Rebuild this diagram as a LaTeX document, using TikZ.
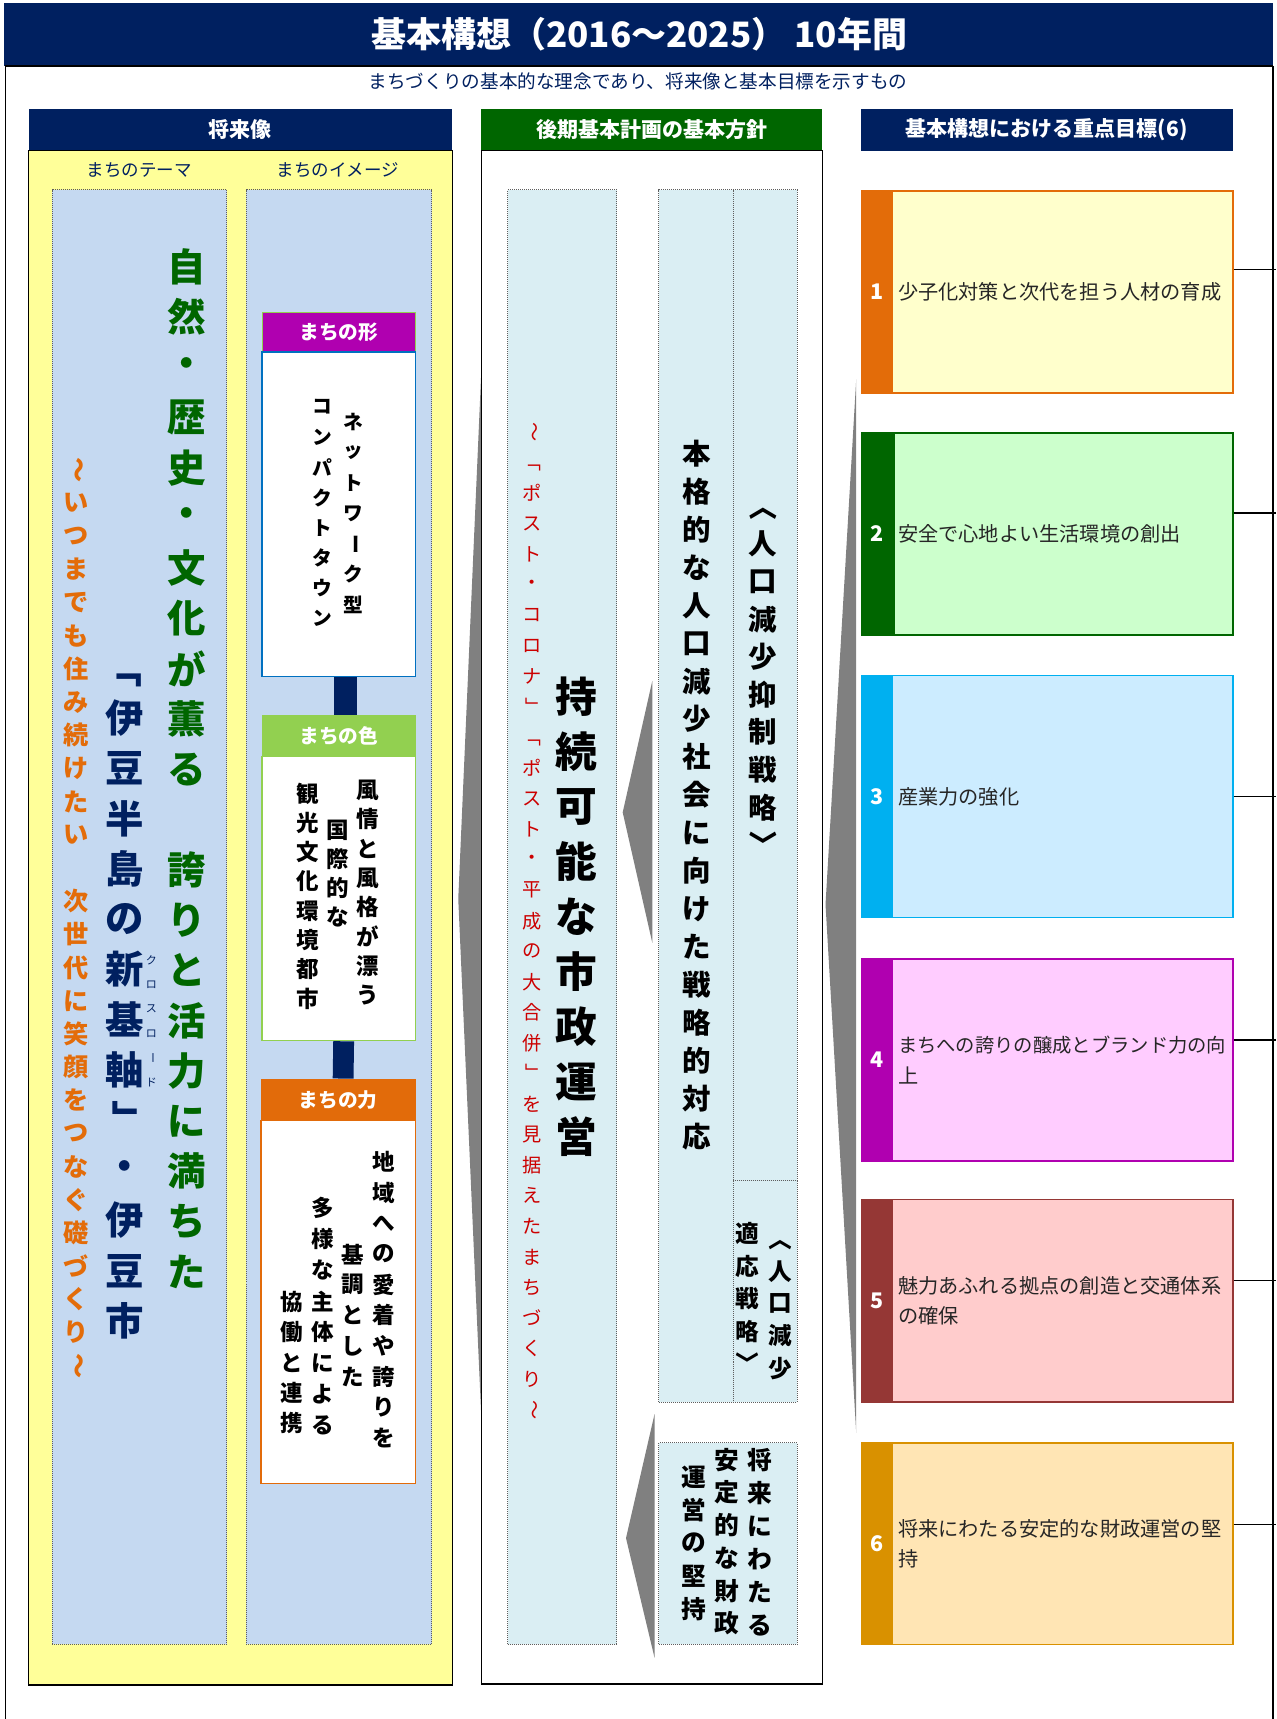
\documentclass[tikz,border=0pt]{standalone}
\usepackage{fontspec}
\setmainfont{Noto Sans CJK JP}
\usetikzlibrary{fit}
\definecolor{navy}{HTML}{002060}
\definecolor{panelyellow}{HTML}{FFFF99}
\definecolor{colblue}{HTML}{C5D9F1}
\definecolor{colcyan}{HTML}{DAEEF3}
\definecolor{dgreen}{HTML}{006600}
\definecolor{torange}{HTML}{E36C09}
\definecolor{hmag}{HTML}{B000B0}
\definecolor{hlgreen}{HTML}{92D050}
\definecolor{horange}{HTML}{E26B0A}
\definecolor{bblue}{HTML}{0070C0}
\definecolor{tred}{HTML}{CC0000}
\definecolor{wedgegray}{HTML}{808080}
\definecolor{dotgray}{HTML}{5E5E5E}
\definecolor{gsA}{HTML}{E36C09}\definecolor{gfA}{HTML}{FFFFCC}
\definecolor{gsB}{HTML}{006600}\definecolor{gfB}{HTML}{CCFFCC}
\definecolor{gsC}{HTML}{00B0F0}\definecolor{gfC}{HTML}{CCECFF}
\definecolor{gsD}{HTML}{B000B0}\definecolor{gfD}{HTML}{FFCCFF}
\definecolor{gsE}{HTML}{953735}\definecolor{gfE}{HTML}{FFCCCC}
\definecolor{gsF}{HTML}{D99100}\definecolor{gfF}{HTML}{FFE5B4}
\newcommand\rt[1]{\rotatebox[origin=c]{-90}{#1}}
\newcommand\vcol[6]{\foreach \c [count=\i from 0] in {#6}{\node[#5] (#1-\i) at (#2,{#3+\i*#4}) {\c};}}
\newcommand\goalbox[9]{%
  \node[fit={(786,#2) (1124.5,#3)}, inner sep=0pt, draw=#4, fill=#5, line width=1.6pt] (#1) {};
  \fill[#4] (786,#2) rectangle (#9,#3);
  \node[numtxt] (#1n) at (800,{(#2+#3)/2}) {#6};
  \node[goaltxt] (#1t) at (819,{(#2+#3)/2}) {#7};
  \coordinate (#1r) at (1164,#8);
  \draw[line width=1.2pt] (#1.east |- #1r) -- (#1r);}
\begin{document}
\begin{tikzpicture}[x=1.0962pt,y=-1.0962pt,
  ch/.style={inner sep=0pt},
  dotbox/.style={draw=dotgray, densely dotted, line width=1pt},
  boxfit/.style={inner sep=0pt},
  hdtxt/.style={inner sep=0pt, text=white, font=\fontsize{21}{24}\selectfont\bfseries},
  bhtxt/.style={inner sep=0pt, text=white, font=\fontsize{19.7}{22}\selectfont\bfseries},
  greentxt/.style={ch, text=dgreen, font=\fontsize{38.4}{40}\selectfont\bfseries},
  navytxt/.style={ch, text=navy, font=\fontsize{38.4}{40}\selectfont\bfseries},
  orangetxt/.style={ch, text=torange, font=\fontsize{25.2}{27}\selectfont\bfseries},
  rubytxt/.style={ch, text=navy, font=\fontsize{11}{12}\selectfont},
  formtxt/.style={ch, text=black, font=\fontsize{19.7}{21}\selectfont\bfseries},
  colortxt/.style={ch, text=black, font=\fontsize{22.5}{24}\selectfont\bfseries},
  susttxt/.style={ch, text=black, font=\fontsize{41.7}{44}\selectfont\bfseries},
  redtxt/.style={ch, text=tred, font=\fontsize{19.2}{21}\selectfont},
  strattxt/.style={ch, text=black, font=\fontsize{28.5}{30}\selectfont\bfseries},
  smalltxt/.style={ch, text=black, font=\fontsize{23.6}{25}\selectfont\bfseries},
  fintxt/.style={ch, text=black, font=\fontsize{24.7}{26}\selectfont\bfseries},
  numtxt/.style={inner sep=0pt, text=white, font=\fontsize{21.5}{22}\selectfont\bfseries},
  goaltxt/.style={inner sep=0pt, anchor=west, align=left, text=black!85, font=\fontsize{20.2}{30.7}\selectfont},
  wedge/.style={fill=wedgegray}]
\useasboundingbox (0,0) rectangle (1164,1568);
\fill[white] (0,0) rectangle (1164,1568);
% title and frame
\node[fit={(4,3) (1161,60)}, boxfit, fill=navy] (titlebar) {};
\node[text=white, inner sep=0pt, font=\fontsize{35}{38}\selectfont\bfseries] (title) at (583,31) {基本構想（2016～2025） 10年間};
\draw[line width=1.6pt] (5,60) -- (1161,60);
\draw[line width=1.6pt] (5,60) -- (5,1568);
\draw[line width=2pt] (1161,60) -- (1161,1568);
\node[text=navy, inner sep=0pt, font=\fontsize{18.6}{20}\selectfont] (subtitle) at (582,74) {まちづくりの基本的な理念であり、将来像と基本目標を示すもの};
% ---------- left panel ----------
\node[fit={(26,137) (412.5,1537)}, boxfit, draw=black, line width=1.3pt, fill=panelyellow] (lpanel) {};
\node[fit={(26,99.5) (412.5,137)}, boxfit, fill=navy] (lhead) {};
\node[hdtxt] (lheadtxt) at (219,118.5) {将来像};
\node[text=navy, inner sep=0pt, font=\fontsize{17.5}{19}\selectfont] (ltheme) at (127,155) {まちのテーマ};
\node[text=navy, inner sep=0pt, font=\fontsize{17.5}{19}\selectfont] (limage) at (308,155) {まちのイメージ};
\node[fit={(47.5,173) (207,1500)}, boxfit, fill=colblue, dotbox] (themecol) {};
\node[fit={(224.5,173) (394,1500)}, boxfit, fill=colblue, dotbox] (imagecol) {};
\vcol{grn}{170.5}{243.3}{45.83}{greentxt}{自,然,・,歴,史,・,文,化,が,薫,る,{},誇,り,と,活,力,に,満,ち,た}
\vcol{nvy}{114}{609.5}{45.8}{navytxt}{\rt{「},伊,豆,半,島,の,新,基,軸,\rt{」},・,伊,豆,市}
\vcol{rby}{138}{876}{22.2}{rubytxt}{ク,ロ,ス,ロ,\rt{ー},ド}
\vcol{org}{69.5}{428.7}{30.26}{orangetxt}{\rt{～},い,つ,ま,で,も,住,み,続,け,た,い,{},次,世,代,に,笑,顔,を,つ,な,ぐ,礎,づ,く,り,\rt{～}}
% image boxes
\node[fit={(239,285) (379,321)}, boxfit, fill=hmag, draw=hlgreen, line width=1pt] (formhead) {};
\node[bhtxt] (formheadtxt) at (309,303) {まちの形};
\node[fit={(239,321) (379,617)}, boxfit, fill=white, draw=bblue, line width=1.5pt] (formbody) {};
\node[fit={(239,652) (379,690)}, boxfit, fill=hlgreen] (colorhead) {};
\node[bhtxt] (colorheadtxt) at (309,671) {まちの色};
\node[fit={(239,690) (379,949)}, boxfit, fill=white, draw=hlgreen, line width=1.8pt] (colorbody) {};
\node[fit={(238,984) (379,1022)}, boxfit, fill=horange] (powerhead) {};
\node[bhtxt] (powerheadtxt) at (308.5,1003) {まちの力};
\node[fit={(238,1022) (379,1353)}, boxfit, fill=white, draw=horange, line width=1.6pt] (powerbody) {};
\draw[navy, line width=23pt] ([xshift=7pt]formbody.south) -- ([xshift=7pt]colorhead.north);
\draw[navy, line width=20.8pt] ([xshift=4.9pt]colorbody.south) -- ([xshift=4.9pt]powerhead.north);
\vcol{fa}{322}{385}{27.8}{formtxt}{ネ,ッ,ト,ワ,\rt{ー},ク,型}
\vcol{fb}{294}{371}{27.6}{formtxt}{コ,ン,パ,ク,ト,タ,ウ,ン}
\vcol{ca}{335}{720.7}{26.7}{colortxt}{風,情,と,風,格,が,漂,う}
\vcol{cb}{308}{757.2}{26.4}{colortxt}{国,際,的,な}
\vcol{cc}{281}{724}{26.7}{colortxt}{観,光,文,化,環,境,都,市}
\vcol{pa}{349.7}{1059.8}{28}{colortxt}{地,域,へ,の,愛,着,や,誇,り,を}
\vcol{pb}{321.7}{1144}{27.9}{colortxt}{基,調,と,し,た}
\vcol{pc}{294}{1101.8}{28.36}{colortxt}{多,様,な,主,体,に,よ,る}
\vcol{pd}{266}{1187.5}{27.7}{colortxt}{協,働,と,連,携}
% ---------- middle panel ----------
\fill[wedge] (439,339) -- (418,820) -- (439,1292) -- cycle;
\node[fit={(439,137) (750,1536)}, boxfit, draw=black, line width=1.3pt, fill=white] (mpanel) {};
\node[fit={(439,99.5) (750,137)}, boxfit, fill=dgreen] (mhead) {};
\node[hdtxt] (mheadtxt) at (594.5,118.5) {後期基本計画の基本方針};
\node[fit={(463,173) (562.6,1500)}, boxfit, fill=colcyan, dotbox] (sustcol) {};
\node[fit={(601,173) (668.7,1279)}, boxfit, fill=colcyan, dotbox] (stratcol) {};
\node[fit={(668.7,173) (727,1077)}, boxfit, fill=colcyan, dotbox] (stratA) {};
\node[fit={(668.7,1077) (727,1279)}, boxfit, fill=colcyan, dotbox] (stratB) {};
\node[fit={(601,1316) (727,1500)}, boxfit, fill=colcyan, dotbox] (fincol) {};
\fill[wedge] (595,621) -- (568,741) -- (595,860) -- cycle;
\fill[wedge] (597,1290) -- (571,1403) -- (597,1512) -- cycle;
\vcol{su}{526}{635.6}{50.2}{susttxt}{持,続,可,能,な,市,政,運,営}
\vcol{rd}{485.5}{394}{27.87}{redtxt}{\rt{〜},\rt{「},ポ,ス,ト,・,コ,ロ,ナ,\rt{」},\rt{「},ポ,ス,ト,・,平,成,の,大,合,併,\rt{」},を,見,据,え,た,ま,ち,づ,く,り,\rt{〜}}
\vcol{sa}{635.5}{413.8}{34.6}{strattxt}{本,格,的,な,人,口,減,少,社,会,に,向,け,た,戦,略,的,対,応}
\vcol{sb}{696}{462}{34.3}{strattxt}{\rt{〈},人,口,減,少,抑,制,戦,略,\rt{〉}}
\vcol{sc}{711.6}{1130}{29.5}{smalltxt}{\rt{〈},人,口,減,少}
\vcol{sd}{681.5}{1125.5}{29.6}{smalltxt}{適,応,戦,略,\rt{〉}}
\vcol{fa}{693}{1331.4}{30.26}{fintxt}{将,来,に,わ,た,る}
\vcol{fb}{663}{1331.4}{29.9}{fintxt}{安,定,的,な,財,政}
\vcol{fc}{632.5}{1347.4}{30.1}{fintxt}{運,営,の,堅,持}
% ---------- right column ----------
\node[fit={(785,99.5) (1124.5,137.5)}, boxfit, fill=navy] (rhead) {};
\node[hdtxt] (rheadtxt) at (954.7,118.5) {基本構想における重点目標(6)};
\fill[wedge] (781,346) -- (753,825) -- (781,1307) -- cycle;
\goalbox{ga}{174}{358.7}{gsA}{gfA}{1}{少子化対策と次代を担う人材の育成}{246}{814.5}
\goalbox{gb}{394.7}{579}{gsB}{gfB}{2}{安全で心地よい生活環境の創出}{468}{816.5}
\goalbox{gc}{616}{837}{gsC}{gfC}{3}{産業力の強化}{726.6}{815}
\goalbox{gd}{875}{1059}{gsD}{gfD}{4}{\fontsize{19.3}{30.7}\selectfont まちへの誇りの醸成とブランド力の向\\上}{948.7}{815}
\goalbox{ge}{1094}{1279}{gsE}{gfE}{5}{魅力あふれる拠点の創造と交通体系\\の確保}{1167.7}{815}
\goalbox{gf}{1316.5}{1500}{gsF}{gfF}{6}{将来にわたる安定的な財政運営の堅\\持}{1390.7}{815}
\end{tikzpicture}
\end{document}
